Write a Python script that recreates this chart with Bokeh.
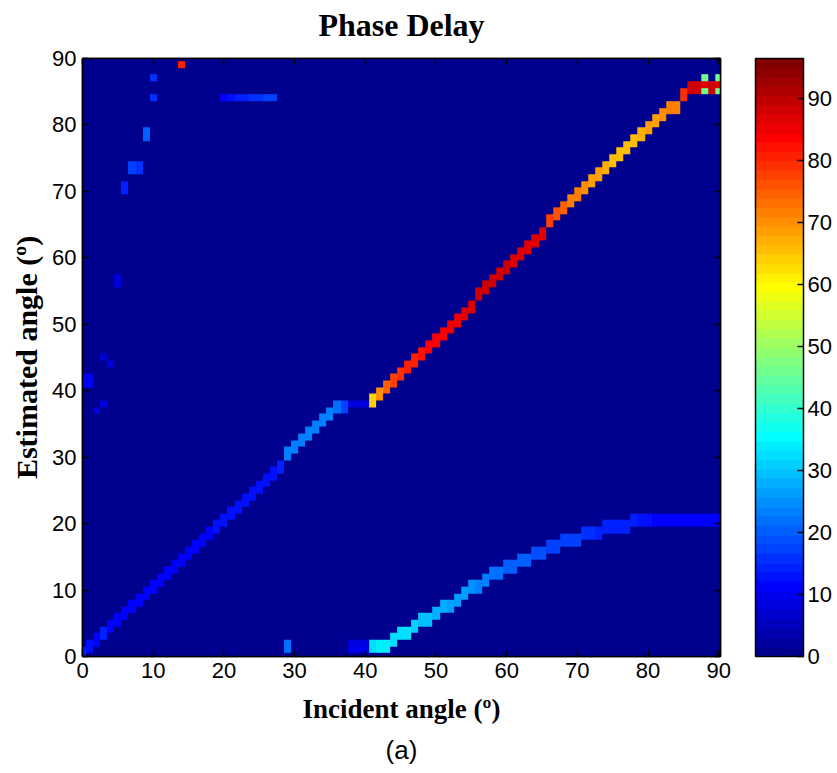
import numpy as np
from bokeh.plotting import figure
from bokeh.models import (LinearColorMapper, ColorBar, FixedTicker, LinearAxis,
                          Title, Range1d, CustomLabelingPolicy)
from bokeh.embed import file_html
from bokeh.resources import INLINE

# ---------------- data ----------------
tick_values = [0, 10, 20, 30, 40, 50, 60, 70, 80, 90]
value_max = 96.5

# upper (red/orange) ridge: x, lower cell y, value (2 cells thick)
upper_x = list(range(41, 86))
upper_y = [38, 39, 40, 41, 42, 43, 44, 45, 46, 47, 48, 49, 50, 51, 52,
           54, 55, 56, 57, 58, 59, 60, 61, 62, 63, 65, 66, 67, 68, 69,
           70, 71, 72, 73, 74, 75, 76, 77, 78, 79, 80, 81, 82, 82, 84]
upper_v = [64, 70, 74, 77, 79, 80, 81, 82, 83, 84, 84, 85, 85, 86, 87,
           88, 88, 88, 88, 88, 87, 87, 87, 86, 86, 78, 76, 74, 72, 71,
           70, 69, 68, 67, 66, 65, 65, 66, 67, 68, 69, 70, 71, 72, 79]

# lower (cyan -> blue) ridge
lower_x = list(range(41, 91))
lower_y = [1, 1, 1, 2, 3, 3, 4, 5, 5, 6, 7, 7, 8, 9, 10, 10, 11, 12, 12, 13,
           13, 14, 14, 15, 15, 16, 16, 17, 17, 17, 18, 18, 18, 19, 19, 19, 19,
           20, 20, 20, 20, 20, 20, 20, 20, 20, 20, 20, 20, 20]
lower_v = [33, 34, 34, 33, 33, 32, 31, 30, 29, 28, 28, 27, 27, 26, 25, 24, 23,
           22, 22, 21, 21, 20, 20, 19, 19, 18, 18, 17, 17, 17, 16, 16, 15, 15,
           15, 14, 14, 14, 13, 13, 12, 12, 12, 12, 12, 12, 12, 12, 12, 12]

# blue diagonal from the origin
diag_x = list(range(0, 38))
diag_y = [0, 1, 2, 3, 4, 5, 6, 7, 8, 9, 10, 11, 12, 13, 14, 15, 16, 17, 18,
          19, 20, 21, 22, 23, 24, 25, 26, 27, 28, 30, 31, 32, 33, 34, 35, 36,
          37, 37]
diag_v = [15, 13, 11, 14, 11, 11, 11, 11, 11, 12, 12, 12, 12, 12, 12, 12, 12,
          12, 12, 13, 13, 13, 13, 13, 13, 13, 13, 13, 14, 24, 24, 24, 24, 24,
          23, 23, 22, 18]

# isolated cells
spot_x = [14, 10, 10, 9, 9, 7, 7, 8, 8, 6, 6, 5, 5, 4, 3, 0, 1, 0, 1, 2, 3,
          20, 21, 22, 23, 24, 25, 26, 27, 29, 29, 38, 39, 40, 38, 39, 40,
          38, 39, 40,
          86, 86, 87, 87, 88, 88, 88, 89, 89, 90, 90, 90]
spot_y = [89, 87, 84, 78, 79, 73, 74, 73, 74, 70, 71, 56, 57, 44, 45, 41, 41,
          42, 42, 37, 38,
          84, 84, 84, 84, 84, 84, 84, 84, 1, 2, 1, 1, 1, 2, 2, 2,
          38, 38, 38,
          85, 86, 85, 86, 85, 86, 87, 85, 86, 85, 86, 87]
spot_v = [80, 16, 16, 20, 20, 18, 18, 16, 16, 15, 15, 9, 9, 8, 7, 12, 12, 12,
          10, 8, 8,
          12, 13, 14, 15, 16, 16, 17, 17, 22, 22, 10, 10, 10, 8, 8, 8,
          9, 9, 9,
          88, 88, 88, 88, 46, 86, 46, 88, 88, 46, 86, 46]

# ---------------- build the grid ----------------
N = 91
Z = np.zeros((N, N))


def put(xs, ys, vs, thick):
    for x, y, v in zip(xs, ys, vs):
        for k in range(thick):
            if 0 <= y + k < N:
                Z[y + k, x] = max(Z[y + k, x], v)


put(upper_x, upper_y, upper_v, 2)
put(lower_x, lower_y, lower_v, 2)
put(diag_x, diag_y, diag_v, 2)
put(spot_x, spot_y, spot_v, 1)


# MATLAB jet(64)
def jet(m=64):
    n = int(np.ceil(m / 4))
    u = np.concatenate([np.arange(1, n + 1) / n, np.ones(n - 1),
                        np.arange(n, 0, -1) / n])
    g = int(np.ceil(n / 2)) - (1 if m % 4 == 1 else 0) + np.arange(1, len(u) + 1)
    r = g + n
    b = g - n
    J = np.zeros((m, 3))
    for idx, col in ((r, 0), (g, 1), (b, 2)):
        for k, i in enumerate(idx):
            if 1 <= i <= m:
                J[i - 1, col] = u[k]
    return ["#%02x%02x%02x" % tuple(int(round(c * 255)) for c in row) for row in J]


palette = jet(64)
mapper = LinearColorMapper(palette=palette, low=0, high=value_max)

serif = "'Liberation Serif', 'Times New Roman', serif"
sans = "'Liberation Sans', Arial, sans-serif"

p = figure(output_backend="svg", toolbar_location=None,
           frame_width=638, frame_height=598,
           x_range=Range1d(0, 90.25), y_range=Range1d(0, 90),
           min_border_left=82, min_border_top=57, min_border_bottom=108,
           min_border_right=115, tools="")

p.image(image=[Z], x=-0.5, y=-0.5, dw=N, dh=N, color_mapper=mapper)

p.title.text = "Phase Delay"
p.title.align = "center"
p.title.text_font = serif
p.title.text_font_size = "32px"
p.title.text_font_style = "bold"
p.title.text_color = "black"
p.title.standoff = 9

p.grid.visible = False
p.outline_line_color = "black"
p.outline_line_width = 1.5
p.background_fill_color = palette[0]
p.border_fill_color = "white"

for ax in (p.xaxis[0], p.yaxis[0]):
    ax.ticker = FixedTicker(ticks=tick_values)
    ax.major_tick_in = 6
    ax.major_tick_out = 0
    ax.minor_tick_line_color = None
    ax.axis_line_color = "black"
    ax.axis_line_width = 1.5
    ax.major_tick_line_width = 1.5
    ax.major_label_text_font = sans
    ax.major_label_text_font_size = "22px"
    ax.major_label_text_color = "black"
    ax.axis_label_text_font = serif
    ax.axis_label_text_font_style = "bold"
    ax.axis_label_text_color = "black"

p.xaxis[0].axis_label = "Incident angle (º)"
p.xaxis[0].axis_label_text_font_size = "27px"
p.xaxis[0].axis_label_standoff = 13
p.yaxis[0].axis_label = "Estimated angle (º)"
p.yaxis[0].axis_label_text_font_size = "30px"
p.yaxis[0].axis_label_standoff = 6
p.xaxis[0].major_label_standoff = 6
p.yaxis[0].major_label_standoff = 6

# box ticks on top and right (no labels)
no_labels = CustomLabelingPolicy(
    code="for (const i of indices) { indices.unset(i) } return indices")
for loc in ("above", "right"):
    a = LinearAxis(ticker=FixedTicker(ticks=tick_values),
                   major_tick_in=6, major_tick_out=0,
                   minor_tick_line_color=None,
                   major_label_policy=no_labels,
                   major_label_standoff=0,
                   major_label_text_font_size="10px",
                   axis_line_color="black", axis_line_width=1.5,
                   major_tick_line_width=1.5)
    p.add_layout(a, loc)

cb = ColorBar(color_mapper=mapper, ticker=FixedTicker(ticks=tick_values),
              width=48, location=(21, 0), padding=0,
              major_tick_in=6, major_tick_out=0,
              major_tick_line_color="black", major_tick_line_width=1.5,
              bar_line_color="black", bar_line_width=1.5,
              major_label_text_font=sans, major_label_text_font_size="22px",
              major_label_text_color="black", label_standoff=4,
              background_fill_color=None, border_line_color=None)
p.add_layout(cb, "right")

p.add_layout(Title(text="(a)", align="center", text_font=sans,
                   text_font_size="26px", text_font_style="normal",
                   text_color="black", standoff=12), "below")

open("out.html", "w").write(file_html(p, INLINE))
